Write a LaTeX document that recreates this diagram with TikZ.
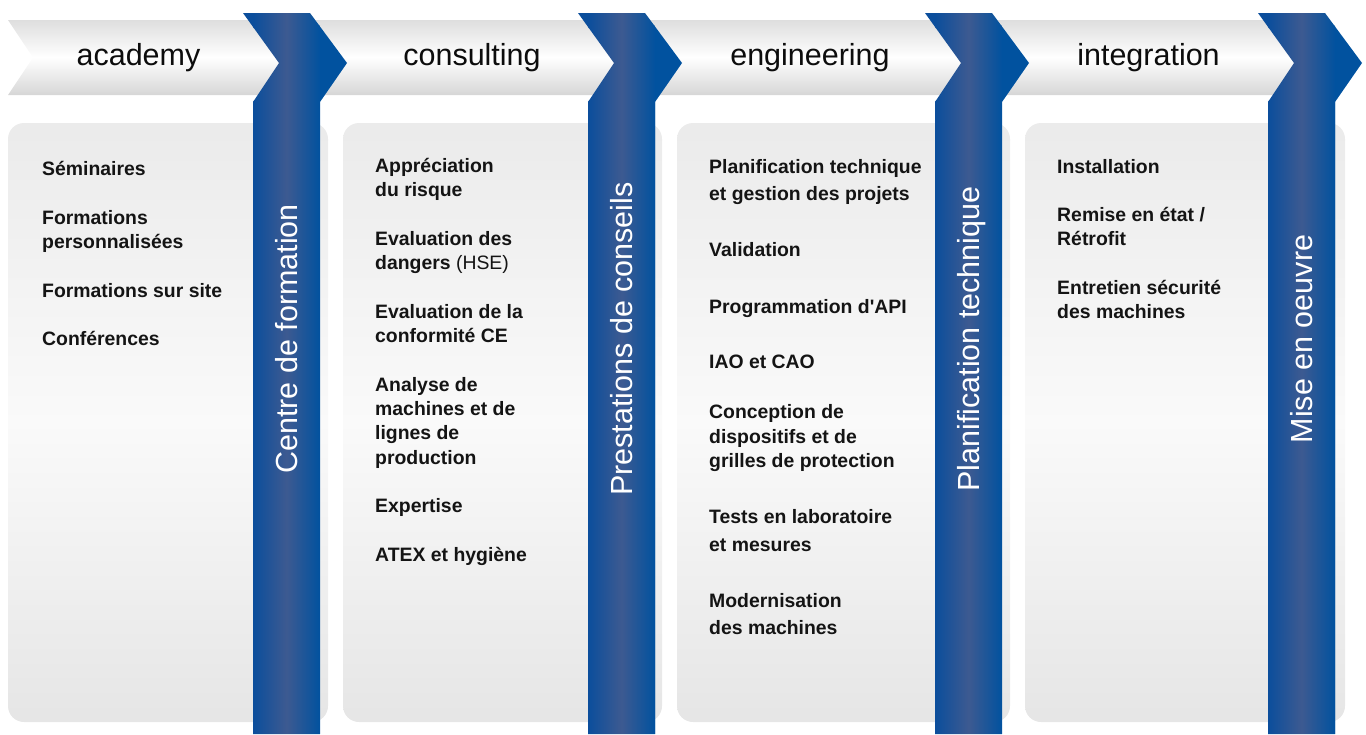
\documentclass[tikz,border=0pt]{standalone}
\usepackage{fontspec}
\setmainfont{Liberation Sans}
\definecolor{bandaL}{HTML}{0B4E9C}
\definecolor{bandaM}{HTML}{3D5A91}
\definecolor{bandaR}{HTML}{01529F}
\begin{document}
\begin{tikzpicture}[x=1pt, y=-1pt,
    headtxt/.style={anchor=base, inner sep=0pt, text=black!95, font=\fontsize{30.5}{36}\selectfont},
    bandtxt/.style={rotate=90, anchor=base, inner sep=0pt, text=white, font=\fontsize{30.5}{36}\selectfont},
    itemtxt/.style={anchor=base west, inner sep=0pt, text=black!92, font=\fontsize{19.4}{23}\selectfont\bfseries}]
      \def\bw{67}
      \def\bt{13}
      \def\bk{102}
      \useasboundingbox (0,0) rectangle (1366,734);

      % Cabecera gris
      \shade[top color=black!13, bottom color=black!16, middle color=white]
        (8,20) -- (1310,20) -- (1310,95) -- (8,95) -- (33,57.5) -- cycle;

      % Cajas
      \foreach \a/\b in {8/328, 343/662, 677/1010, 1025/1345}
        \shade[rounded corners=16pt, top color=black!8, bottom color=black!10, middle color=black!2] (\a,123) rectangle (\b,722);

      % Bandas azules
      \foreach \L/\t [count=\i] in {253/Centre de formation, 588/Prestations de conseils, 935/Planification technique, 1268/Mise en oeuvre} {
        \begin{scope}
          \clip (\L-10,\bt) -- (\L+57,\bt) -- (\L+94,63) -- (\L+\bw,\bk) -- (\L+\bw,734)
            -- (\L,734) -- (\L,\bk) -- (\L+26,63) -- cycle;
          \fill[bandaL] (\L-12,0) rectangle (\L+1,734);
          \fill[bandaR] (\L+\bw-1,0) rectangle (\L+100,734);
          \shade[left color=bandaL, right color=bandaR, middle color=bandaM] (\L,0) rectangle (\L+\bw,734);
        \end{scope}
        \node[bandtxt] (bt\i) at (\L+44.4,339) {\t};
      }

      % Titulos
      \node[headtxt] (hd1) at (138.5,65) {academy};
      \node[headtxt] (hd2) at (472,65) {consulting};
      \node[headtxt] (hd3) at (810,65) {engineering};
      \node[headtxt] (hd4) at (1148.5,65) {integration};

      % Listas
      \foreach \y/\t [count=\i] in {175/Séminaires, 224/Formations, 248/personnalisées,
          297/Formations sur site, 345/Conférences}
        \node[itemtxt] (aca\i) at (42,\y) {\t};
      \foreach \y/\t [count=\i] in {172/Appréciation, 196/du risque, 245/Evaluation des,
          269/dangers \textmd{(HSE)}, 318/Evaluation de la, 342/conformité CE, 391/Analyse de,
          415/machines et de, 439/lignes de, 464/production, 512/Expertise, 561/ATEX et hygiène}
        \node[itemtxt] (con\i) at (375,\y) {\t};
      \foreach \y/\t [count=\i] in {173/Planification technique, 200/et gestion des projets,
          256/Validation, 313/Programmation d\textquotesingle API, 368/IAO et CAO, 418/Conception de,
          443/dispositifs et de, 467/grilles de protection, 523/Tests en laboratoire,
          551/et mesures, 607/Modernisation, 634/des machines}
        \node[itemtxt] (eng\i) at (709,\y) {\t};
      \foreach \y/\t [count=\i] in {173/Installation, 221/Remise en état \slash, 245/Rétrofit,
          294/Entretien sécurité, 318/des machines}
        \node[itemtxt] (int\i) at (1057,\y) {\t};
\end{tikzpicture}
\end{document}
